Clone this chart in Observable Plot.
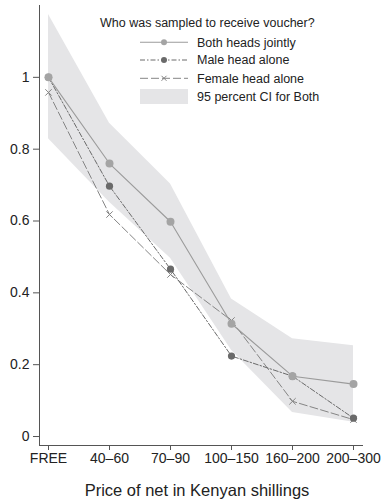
<!DOCTYPE html>
<html>
<head>
<meta charset="utf-8">
<script src="https://cdn.jsdelivr.net/npm/d3@7"></script>
<script src="https://cdn.jsdelivr.net/npm/@observablehq/plot@0.6"></script>
<style>
  html, body { margin: 0; padding: 0; background: #fff; }
  #chart { position: relative; width: 386px; height: 499px; font-family: "Liberation Sans", Arial, sans-serif; }
  #legend { position: absolute; left: 0; top: 0; pointer-events: none; }
</style>
</head>
<body>
<div id="chart"></div>
<script>
// ---- data ----
const categories = ["FREE", "40\u201360", "70\u201390", "100\u2013150", "160\u2013200", "200\u2013300"];
const both   = [1.000, 0.760, 0.598, 0.314, 0.168, 0.146];
const male   = [1.000, 0.697, 0.466, 0.224, 0.168, 0.051];
const female = [0.958, 0.618, 0.451, 0.323, 0.098, 0.047];
const ciLow  = [0.829, 0.652, 0.496, 0.240, 0.067, 0.040];
const ciHigh = [1.175, 0.872, 0.703, 0.383, 0.272, 0.253];
const yTicks = [0, 0.2, 0.4, 0.6, 0.8, 1];
const yTickLabels = ["0", "0.2", "0.4", "0.6", "0.8", "1"];
const xTitle = "Price of net in Kenyan shillings";
const legendTitle = "Who was sampled to receive voucher?";
const seriesNames = ["Both heads jointly", "Male head alone", "Female head alone", "95 percent CI for Both"];

const rows = (vals) => categories.map((c, i) => ({cat: c, v: vals[i]}));
const ciRows = categories.map((c, i) => ({cat: c, lo: ciLow[i], hi: ciHigh[i]}));

const cBoth = "#9b9b9b", cBothDot = "#a4a4a4";
const cMale = "#6a6a6a", cFemale = "#858585";
const cCI = "#e5e5e7";
const axisColor = "#555";

const plot = Plot.plot({
  width: 386,
  height: 499,
  marginLeft: 39,
  marginRight: 24,
  marginTop: 5,
  marginBottom: 54,
  style: {fontFamily: "'Liberation Sans', Arial, sans-serif", color: "#222", background: "#fff"},
  x: {type: "point", domain: categories, padding: 0.125},
  y: {domain: [-0.025, 1.2]},
  marks: [
    Plot.areaY(ciRows, {x: "cat", y1: "lo", y2: "hi", fill: cCI, curve: "linear"}),
    // female
    Plot.line(rows(female), {x: "cat", y: "v", stroke: cFemale, strokeWidth: 1, strokeDasharray: "8,3"}),
    Plot.dot(rows(female), {x: "cat", y: "v", symbol: "times", r: 3, stroke: cFemale, strokeWidth: 1}),
    // male
    Plot.line(rows(male), {x: "cat", y: "v", stroke: cMale, strokeWidth: 1, strokeDasharray: "5,2,1.5,2"}),
    Plot.dot(rows(male), {x: "cat", y: "v", r: 3.6, fill: cMale}),
    // both
    Plot.line(rows(both), {x: "cat", y: "v", stroke: cBoth, strokeWidth: 1.1}),
    Plot.dot(rows(both), {x: "cat", y: "v", r: 4, fill: cBothDot}),
    // axes
    Plot.frame({anchor: "left", stroke: axisColor}),
    Plot.frame({anchor: "bottom", stroke: axisColor}),
    Plot.axisY({ticks: yTicks, tickFormat: (d) => yTickLabels[yTicks.indexOf(d)], tickSize: 6, tickPadding: 4, fontSize: 14, label: null, stroke: axisColor}),
    Plot.axisX({tickSize: 5, tickPadding: 3, fontSize: 14, label: null, stroke: axisColor}),
    Plot.text([xTitle], {frameAnchor: "bottom", dy: 45, dx: -4, lineAnchor: "middle", fontSize: 16.5, fill: "#222"})
  ]
});
const chart = document.getElementById("chart");
chart.appendChild(plot);

// ---- legend overlay ----
const lg = d3.select(chart).append("svg").attr("id", "legend")
  .attr("width", 386).attr("height", 120)
  .style("font-family", "'Liberation Sans', Arial, sans-serif")
  .style("font-size", "12.5px");
lg.append("text").attr("x", 100).attr("y", 26.5).attr("fill", "#222").text(legendTitle);
const x0 = 140, x1 = 188, xm = 164, tx = 197;
const rowY = [42.3, 60, 78.3, 96.5];
// Both
lg.append("line").attr("x1", x0).attr("x2", x1).attr("y1", rowY[0]).attr("y2", rowY[0]).attr("stroke", cBoth).attr("stroke-width", 1.1);
lg.append("circle").attr("cx", xm).attr("cy", rowY[0]).attr("r", 3).attr("fill", cBothDot);
// Male
lg.append("line").attr("x1", x0).attr("x2", x1).attr("y1", rowY[1]).attr("y2", rowY[1]).attr("stroke", cMale).attr("stroke-width", 1).attr("stroke-dasharray", "5,2,1.5,2");
lg.append("circle").attr("cx", xm).attr("cy", rowY[1]).attr("r", 3).attr("fill", cMale);
// Female
lg.append("line").attr("x1", x0).attr("x2", x1).attr("y1", rowY[2]).attr("y2", rowY[2]).attr("stroke", cFemale).attr("stroke-width", 1).attr("stroke-dasharray", "8,3");
lg.append("path").attr("d", `M${xm-2.5},${rowY[2]-2.5}L${xm+2.5},${rowY[2]+2.5}M${xm-2.5},${rowY[2]+2.5}L${xm+2.5},${rowY[2]-2.5}`).attr("stroke", cFemale).attr("stroke-width", 1);
// CI
lg.append("rect").attr("x", x0).attr("y", 89).attr("width", x1 - x0).attr("height", 15).attr("fill", cCI);
seriesNames.forEach((s, i) => {
  lg.append("text").attr("x", tx).attr("y", rowY[i] + 4.3).attr("fill", "#222").text(s);
});
</script>
</body>
</html>
